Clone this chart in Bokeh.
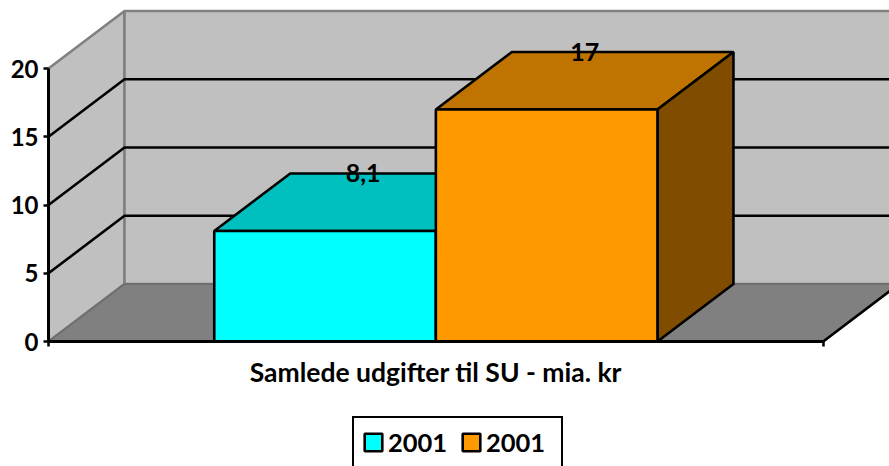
from bokeh.plotting import figure
from bokeh.models import (ColumnDataSource, LinearAxis, FixedTicker, Range1d, Legend, LegendItem)
from bokeh.core.properties import value
from bokeh.embed import file_html
from bokeh.resources import INLINE

category = "Samlede udgifter til SU - mia. kr"
series_names = ["2001", "2001"]
values = [8.1, 17]
value_labels = ["8,1", "17"]
y_ticks = [0, 5, 10, 15, 20]

front_colors = ["#00FFFF", "#FF9900"]
top_colors = ["#00BFBF", "#BF7300"]
side_colors = ["#008080", "#804D00"]

FONT = "Lato"
PX_X = 221.6      # px per bar width
PX_Y = 13.65      # px per value unit
DX = 76 / PX_X    # 3-D depth, x units
DY = 57.5 / PX_Y  # 3-D depth, value units
GAP = 0.748       # side gap in bar widths
CAT_W = 2 * GAP + len(values)
Y_MAX = y_ticks[-1]
LW = 2.6

p = figure(width=889, height=466, frame_width=889, frame_height=466,
           output_backend="svg", toolbar_location=None,
           x_axis_location=None, y_axis_location=None,
           min_border_left=0, min_border_right=0, min_border_top=0, min_border_bottom=0,
           outline_line_color=None, background_fill_color="white", border_fill_color="white",
           x_range=Range1d(-48 / PX_X, 841 / PX_X), y_range=Range1d(-125 / PX_Y, 341 / PX_Y))
p.grid.visible = False

# walls and floor
far_x = CAT_W + DX
p.patch([0, DX, DX, 0], [0, DY, Y_MAX + DY, Y_MAX], fill_color="#C0C0C0", line_color="#808080", line_width=LW)
p.patch([DX, far_x, far_x, DX], [DY, DY, Y_MAX + DY, Y_MAX + DY], fill_color="#C0C0C0", line_color="#808080", line_width=LW)
p.patch([0, DX, far_x, CAT_W], [0, DY, DY, 0], fill_color="#808080", line_color="#6E6E6E", line_width=2)
p.line([CAT_W, far_x], [0, DY], line_color="black", line_width=LW)

# gridlines
for t in y_ticks[1:-1]:
    p.line([0, DX, far_x], [t, t + DY, t + DY], line_color="black", line_width=LW)

# bars
front_renderers = []
for i, v in enumerate(values):
    x0 = GAP + i
    x1 = x0 + 1
    p.patch([x0, x0 + DX, x1 + DX, x1], [v, v + DY, v + DY, v], fill_color=top_colors[i], line_color="black", line_width=LW)
    p.patch([x1, x1 + DX, x1 + DX, x1], [0, DY, v + DY, v], fill_color=side_colors[i], line_color="black", line_width=LW)
    r = p.quad(left=x0, right=x1, bottom=0, top=v, fill_color=front_colors[i], line_color="black", line_width=LW)
    front_renderers.append(r)

# value labels
src = ColumnDataSource(dict(x=[GAP + i + 0.5 + DX / 2 for i in range(len(values))],
                            y=[v + DY for v in values], t=value_labels))
p.text("x", "y", text="t", source=src, text_font=value(FONT), text_font_style="bold",
       text_font_size="25px", text_color="black", text_align="center", text_baseline="middle")

# axes
ya = LinearAxis(ticker=FixedTicker(ticks=y_ticks), bounds=(0, Y_MAX), fixed_location=0)
ya.axis_line_color = "black"
ya.axis_line_width = 3
ya.major_tick_line_color = "black"
ya.major_tick_line_width = 2.5
ya.major_tick_in = 0
ya.major_tick_out = 5
ya.minor_tick_line_color = None
ya.major_label_standoff = 5
ya.major_label_text_font = FONT
ya.major_label_text_font_style = "bold"
ya.major_label_text_font_size = "24px"
ya.major_label_text_color = "black"
p.add_layout(ya, "left")

xa = LinearAxis(ticker=FixedTicker(ticks=[0, CAT_W]), bounds=(0, CAT_W), fixed_location=0)
xa.axis_line_color = "black"
xa.axis_line_width = 3
xa.major_tick_line_color = "black"
xa.major_tick_line_width = 2.5
xa.major_tick_in = 0
xa.major_tick_out = 5
xa.minor_tick_line_color = None
xa.major_label_overrides = {0: "", CAT_W: ""}
xa.major_label_text_font_size = "1px"
xa.major_label_standoff = 0
p.add_layout(xa, "below")

ca = LinearAxis(ticker=FixedTicker(ticks=[CAT_W / 2]), fixed_location=0)
ca.axis_line_color = None
ca.major_tick_line_color = None
ca.minor_tick_line_color = None
ca.major_tick_in = 0
ca.major_tick_out = 0
ca.major_label_overrides = {CAT_W / 2: category}
ca.major_label_standoff = 14
ca.major_label_text_font = FONT
ca.major_label_text_font_style = "bold"
ca.major_label_text_font_size = "26.5px"
ca.major_label_text_color = "black"
p.add_layout(ca, "below")

legend = Legend(items=[LegendItem(label=value(n), renderers=[r]) for n, r in zip(series_names, front_renderers)],
                orientation="horizontal", location=(352, -2),
                border_line_color="black", border_line_alpha=1, border_line_width=2.6,
                background_fill_color="white", background_fill_alpha=1,
                label_text_font=FONT, label_text_font_style="bold", label_text_font_size="25.5px",
                label_text_color="black", label_standoff=4, label_width=67, label_height=32,
                glyph_width=22, glyph_height=22, spacing=5, padding=8, margin=0)
p.add_layout(legend, "center")

open("out.html", "w").write(file_html(p, INLINE))
